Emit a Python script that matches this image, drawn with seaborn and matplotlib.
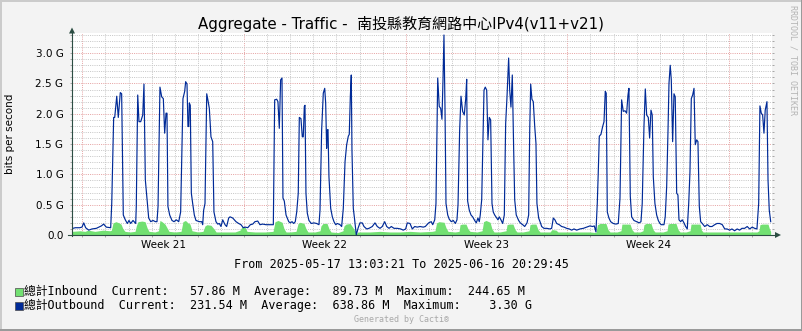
import numpy as np
import pandas as pd
import matplotlib
matplotlib.use("Agg")
import matplotlib.pyplot as plt
import matplotlib.dates as mdates
from matplotlib.lines import Line2D
from matplotlib.patches import Rectangle, Polygon
import seaborn as sns

# ---------------- data ----------------
START = "2025-05-17 13:03:21"
END = "2025-06-16 20:29:45"

# Outbound (Gbit/s), hours after START
out_hours = [
    1.2, 3.6, 8.2, 10.6, 12.4, 14.4, 17.6, 21.0, 25.5, 30.7, 33.1, 35.8, 40.4, 41.5, 43.5, 44.6, 46.7, 48.3, 50.4, 51.8,
    53.5, 55.6, 57.7, 59.4, 61.2, 63.6, 66.4, 67.0, 68.5, 69.8, 71.6, 73.7, 75.0, 76.4, 78.1, 79.9, 82.0, 84.4, 86.8, 88.5,
    89.6, 91.6, 93.4, 95.1, 96.5, 97.9, 98.9, 99.9, 101.7, 104.1, 106.2, 108.6, 111.1, 113.1, 115.5, 117.3, 118.3, 119.7, 120.7, 121.5,
    122.1, 123.1, 124.2, 125.6, 127.3, 129.0, 132.5, 135.0, 136.0, 137.0, 138.4, 140.2, 141.5, 142.9, 144.6, 146.4, 147.7, 149.8, 151.6, 153.3,
    155.0, 156.8, 159.2, 160.9, 163.0, 164.4, 167.2, 170.6, 173.4, 175.8, 178.2, 180.3, 182.8, 185.5, 188.0, 190.3, 193.2, 195.5, 198.3, 201.8,
    207.0, 209.4, 210.8, 212.9, 214.2, 215.6, 217.0, 218.4, 219.4, 220.8, 222.6, 225.4, 227.0, 228.8, 230.6, 232.2, 233.7, 235.3, 236.4, 238.1,
    239.5, 240.5, 241.6, 242.3, 243.3, 244.7, 246.4, 248.8, 251.6, 254.4, 256.8, 257.9, 259.6, 261.3, 262.8, 263.8, 264.8, 265.5, 266.2, 267.2,
    269.0, 270.7, 272.4, 274.2, 275.9, 278.7, 280.4, 282.1, 283.9, 285.6, 287.3, 288.3, 289.4, 290.4, 291.1, 292.5, 293.9, 295.6, 297.4, 299.4,
    301.8, 303.6, 306.4, 308.8, 312.2, 315.0, 317.4, 320.2, 322.6, 325.1, 327.2, 329.6, 332.0, 334.8, 338.2, 341.7, 344.4, 346.9, 348.6, 351.4,
    353.8, 356.3, 359.0, 361.8, 365.2, 367.3, 370.8, 373.5, 375.0, 377.1, 378.4, 380.2, 381.8, 383.3, 384.6, 385.7, 386.7, 387.8, 388.8, 390.6,
    392.2, 394.3, 396.4, 398.5, 400.2, 401.3, 403.0, 404.4, 406.1, 407.8, 409.3, 410.3, 411.3, 413.0, 414.8, 416.5, 418.6, 420.3, 422.0, 423.4,
    424.4, 425.9, 427.2, 428.3, 429.6, 431.1, 432.4, 433.8, 435.2, 436.6, 437.9, 439.4, 441.1, 442.8, 444.2, 445.9, 447.7, 449.4, 450.8, 452.2,
    453.9, 455.0, 456.3, 457.7, 459.1, 460.2, 461.8, 464.3, 466.0, 468.5, 470.6, 473.0, 474.7, 475.8, 476.8, 478.1, 479.5, 481.0, 482.3, 483.3,
    485.1, 487.2, 488.2, 490.6, 493.4, 496.8, 498.6, 500.3, 502.0, 503.8, 506.5, 509.0, 511.4, 514.2, 516.9, 519.4, 521.8, 524.6, 528.0, 531.5,
    535.0, 538.4, 541.2, 542.9, 544.6, 546.0, 547.0, 548.1, 549.8, 551.6, 553.0, 554.3, 555.3, 556.4, 558.1, 559.9, 562.6, 565.4, 567.8, 569.6,
    571.3, 573.0, 574.8, 576.5, 577.9, 578.9, 580.3, 581.7, 584.1, 586.9, 589.6, 591.4, 592.7, 594.5, 595.9, 597.3, 599.0, 600.4, 601.8, 603.1,
    604.2, 605.9, 607.7, 609.4, 611.1, 612.5, 615.3, 616.6, 618.1, 619.5, 620.5, 621.8, 622.9, 624.3, 625.7, 627.0, 628.5, 629.8, 630.9, 632.6,
    634.3, 636.1, 637.8, 639.5, 641.0, 642.3, 643.7, 645.1, 646.5, 647.8, 649.3, 650.6, 652.0, 653.4, 655.1, 657.6, 660.3, 662.8, 665.2, 668.0,
    670.4, 673.2, 675.9, 678.4, 680.8, 683.6, 685.9, 688.7, 691.4, 693.9, 696.3, 699.1, 701.8, 704.3, 707.0, 709.5, 711.9, 713.7, 715.0, 716.4,
    717.8, 719.2, 720.5, 722.3, 723.4, 724.7, 726.2,
]
out_gbps = [
    0.11, 0.12, 0.12, 0.13, 0.20, 0.12, 0.08, 0.10, 0.11, 0.15, 0.18, 0.13, 0.12, 0.52, 1.94, 1.94, 2.29, 1.94, 2.35, 2.33,
    0.33, 0.25, 0.19, 0.24, 0.19, 0.24, 0.19, 0.47, 2.31, 1.87, 1.87, 1.98, 2.49, 0.91, 0.61, 0.28, 0.22, 0.24, 0.22, 0.22,
    0.47, 2.44, 2.28, 2.25, 1.68, 2.01, 2.01, 0.47, 0.33, 0.24, 0.22, 0.25, 0.22, 0.38, 2.25, 2.37, 2.53, 2.49, 1.79, 1.79,
    2.18, 2.14, 0.69, 0.52, 0.33, 0.24, 0.22, 0.22, 0.17, 0.41, 0.52, 2.33, 2.22, 2.09, 1.62, 1.54, 0.38, 0.22, 0.18, 0.19,
    0.14, 0.25, 0.17, 0.14, 0.28, 0.30, 0.28, 0.22, 0.19, 0.17, 0.12, 0.13, 0.12, 0.17, 0.18, 0.22, 0.23, 0.17, 0.18, 0.17,
    0.17, 0.17, 2.23, 2.24, 2.20, 1.76, 2.56, 2.59, 0.61, 0.56, 0.33, 0.22, 0.20, 0.22, 0.19, 0.22, 0.38, 0.69, 1.94, 1.92,
    1.62, 1.62, 2.12, 2.14, 0.69, 0.36, 0.24, 0.19, 0.20, 0.19, 0.17, 0.41, 1.73, 2.34, 2.42, 2.17, 1.43, 1.73, 1.74, 0.96,
    0.44, 0.30, 0.22, 0.17, 0.19, 0.17, 0.14, 0.44, 1.21, 1.49, 1.63, 1.66, 2.28, 2.64, 1.40, 0.44, 0.25, 0.00, 0.11, 0.20,
    0.20, 0.14, 0.10, 0.11, 0.14, 0.20, 0.14, 0.11, 0.14, 0.22, 0.14, 0.11, 0.14, 0.11, 0.11, 0.10, 0.08, 0.10, 0.20, 0.19,
    0.10, 0.14, 0.13, 0.14, 0.13, 0.14, 0.20, 0.22, 0.17, 0.25, 0.52, 2.59, 2.12, 2.09, 1.91, 2.56, 3.30, 2.06, 0.52, 0.33,
    0.26, 0.22, 0.24, 0.19, 0.25, 0.50, 1.73, 2.29, 2.04, 1.98, 2.25, 2.57, 0.56, 0.41, 0.33, 0.30, 0.24, 0.20, 0.28, 0.22,
    0.33, 0.58, 1.57, 2.39, 2.44, 2.39, 1.57, 1.94, 1.90, 0.52, 0.38, 0.33, 0.29, 0.25, 0.30, 0.25, 0.19, 0.33, 1.84, 2.28,
    2.92, 2.39, 2.11, 2.64, 1.43, 0.58, 0.33, 0.24, 0.20, 0.17, 0.14, 0.20, 0.33, 1.73, 2.49, 2.24, 2.20, 1.79, 1.51, 0.52,
    0.28, 0.19, 0.14, 0.11, 0.11, 0.10, 0.11, 0.28, 0.25, 0.19, 0.17, 0.14, 0.13, 0.11, 0.10, 0.08, 0.10, 0.08, 0.10, 0.11,
    0.13, 0.15, 0.14, 0.15, 0.05, 0.52, 1.02, 1.63, 1.66, 1.79, 1.87, 2.37, 2.34, 0.38, 0.28, 0.22, 0.19, 0.18, 0.19, 0.61,
    2.23, 2.04, 2.05, 2.01, 2.31, 2.42, 0.64, 0.30, 0.24, 0.22, 0.20, 0.22, 0.52, 1.79, 2.41, 1.98, 1.94, 1.60, 2.06, 1.98,
    0.96, 0.52, 0.33, 0.24, 0.19, 0.17, 0.17, 0.30, 0.80, 1.73, 2.50, 2.80, 2.56, 1.54, 2.33, 2.28, 0.69, 0.66, 0.25, 0.22,
    0.25, 0.20, 0.14, 0.10, 0.52, 1.04, 2.25, 2.31, 2.42, 1.49, 1.57, 1.54, 0.47, 0.22, 0.19, 0.14, 0.17, 0.14, 0.14, 0.17,
    0.19, 0.19, 0.17, 0.10, 0.10, 0.08, 0.10, 0.07, 0.10, 0.08, 0.11, 0.11, 0.14, 0.10, 0.13, 0.11, 0.10, 0.52, 2.13, 2.01,
    1.98, 1.68, 2.06, 2.20, 0.91, 0.41, 0.22,
]

# Inbound (Gbit/s), hours after START
in_hours = [
    0.2, 8.5, 13.7, 16.8, 24.1, 32.4, 39.7,
    41.2, 42.8, 45.9, 49.0, 51.1, 53.2, 55.3, 60.5, 65.7,
    67.2, 68.8, 72.9, 76.1, 78.2, 80.2, 86.4, 90.1,
    91.6, 93.7, 96.8, 98.9, 101.0, 107.2, 113.5,
    115.5, 118.1, 120.7, 122.8, 124.9, 131.1, 136.3,
    138.4, 140.5, 144.6, 147.8, 149.9,
    159.2, 169.6, 174.8, 176.9, 180.0, 182.1, 190.4, 200.8, 209.1,
    211.2, 214.3, 218.5, 220.6, 222.6, 226.8, 233.0,
    235.1, 237.2, 241.3, 243.4, 245.5, 252.7, 257.9,
    258.9, 261.0, 265.2, 267.3, 269.3, 276.6, 281.8,
    282.8, 284.9, 289.1, 292.2, 294.3, 295.6,
    297.4, 309.8, 320.2, 330.6, 341.0, 351.4, 361.8, 374.3, 377.4,
    379.0, 381.6, 386.8, 388.8, 390.9, 398.2, 402.4,
    403.4, 405.5, 409.6, 411.7, 413.8, 421.0, 426.3,
    427.8, 430.4, 434.6, 436.6, 438.7, 444.9, 451.2,
    452.2, 454.3, 458.4, 460.5, 462.6, 468.8, 475.1,
    476.1, 478.2, 482.3, 484.4, 486.5,
    496.9, 499.0, 503.1, 505.2, 522.9, 538.4, 544.6,
    546.2, 548.8, 555.0, 557.1, 559.2, 566.5, 570.6,
    571.6, 574.8, 580.0, 582.0, 584.1, 590.4, 593.5,
    594.5, 596.6, 601.8, 603.9, 606.0, 614.3, 618.5,
    619.5, 621.6, 627.8, 629.9, 632.0, 638.2, 642.4,
    643.4, 645.5, 652.8, 654.3, 655.9,
    673.5, 694.3, 711.9, 714.0,
    715.0, 717.1, 723.4, 724.9, 726.2,
]
in_gbps = [
    0.06, 0.07, 0.06, 0.08, 0.06, 0.08, 0.07,
    0.08, 0.20, 0.22, 0.20, 0.18, 0.10, 0.06, 0.05, 0.06,
    0.16, 0.22, 0.23, 0.22, 0.12, 0.06, 0.05, 0.07,
    0.24, 0.22, 0.18, 0.12, 0.06, 0.05, 0.06,
    0.22, 0.24, 0.20, 0.18, 0.07, 0.05, 0.06,
    0.15, 0.17, 0.16, 0.10, 0.05,
    0.05, 0.05, 0.08, 0.14, 0.13, 0.06, 0.05, 0.05, 0.06,
    0.22, 0.24, 0.21, 0.10, 0.05, 0.05, 0.06,
    0.19, 0.21, 0.19, 0.10, 0.05, 0.05, 0.07,
    0.15, 0.19, 0.19, 0.10, 0.05, 0.04, 0.07,
    0.15, 0.18, 0.19, 0.12, 0.06, 0.02,
    0.05, 0.05, 0.06, 0.05, 0.05, 0.06, 0.05, 0.06, 0.07,
    0.20, 0.22, 0.21, 0.12, 0.06, 0.05, 0.06,
    0.17, 0.18, 0.18, 0.10, 0.06, 0.05, 0.07,
    0.22, 0.24, 0.21, 0.10, 0.05, 0.05, 0.07,
    0.17, 0.18, 0.18, 0.09, 0.05, 0.05, 0.07,
    0.17, 0.18, 0.18, 0.09, 0.05,
    0.05, 0.09, 0.08, 0.05, 0.05, 0.05, 0.04,
    0.17, 0.19, 0.19, 0.09, 0.05, 0.05, 0.07,
    0.18, 0.18, 0.18, 0.09, 0.05, 0.05, 0.07,
    0.17, 0.19, 0.19, 0.09, 0.05, 0.05, 0.07,
    0.18, 0.19, 0.19, 0.09, 0.05, 0.05, 0.07,
    0.18, 0.18, 0.18, 0.08, 0.05,
    0.05, 0.05, 0.05, 0.07,
    0.17, 0.18, 0.18, 0.10, 0.06,
]

week_labels = ["Week 21", "Week 22", "Week 23", "Week 24"]
week_centers = ["2025-05-21 12:00", "2025-05-28 12:00", "2025-06-04 12:00", "2025-06-11 12:00"]
ytick_vals = [0.0, 0.5, 1.0, 1.5, 2.0, 2.5, 3.0]
ytick_labels = ["0.0", "0.5 G", "1.0 G", "1.5 G", "2.0 G", "2.5 G", "3.0 G"]

TITLE = "Aggregate - Traffic -  南投縣教育網路中心IPv4(v11+v21)"
Y_LABEL = "bits per second"
FROM_TEXT = "From 2025-05-17 13:03:21 To 2025-06-16 20:29:45"
LEG_IN = "總計Inbound  Current:   57.86 M  Average:   89.73 M  Maximum:  244.65 M"
LEG_OUT = "總計Outbound  Current:  231.54 M  Average:  638.86 M  Maximum:    3.30 G"
CREDIT = "Generated by Cacti®"
WATERMARK = "RRDTOOL / TOBI OETIKER"

# ---------------- style ----------------
W, H = 803, 331
BG = "#F3F3F3"
GREEN = "#72E072"
BLUE = "#002A97"
AXIS = "#2C4D43"
GRID = "#C8C8C8"
MGRID = "#E6A4A4"
MONO = ["DejaVu Sans Mono", "Noto Sans CJK TC"]
SANS = ["DejaVu Sans", "Noto Sans CJK TC"]

def fx(px):
    return px / W

def fy(py):
    return 1 - py / H

X0, X1, YB, YT = 71.8, 771.9, 235.0, 33.0

fig = plt.figure(figsize=(W / 100, H / 100), dpi=100, facecolor=BG)
ax = fig.add_axes([fx(X0), fy(YB), (X1 - X0) / W, (YB - YT) / H])
ax.set_facecolor("white")

t0 = pd.Timestamp(START)
t1 = pd.Timestamp(END)
out_t = mdates.date2num(t0 + pd.to_timedelta(out_hours, unit="h"))
in_t = mdates.date2num(t0 + pd.to_timedelta(in_hours, unit="h"))

df_out = pd.DataFrame({"t": out_t, "v": out_gbps})

ax.fill_between(in_t, in_gbps, 0, color=GREEN, linewidth=0, zorder=2)
sns.lineplot(data=df_out, x="t", y="v", ax=ax, color=BLUE, linewidth=0.85,
             estimator=None, sort=False, zorder=3)

ax.set_xlim(mdates.date2num(t0), mdates.date2num(t1))
ax.set_ylim(0, 3.333)
ax.set_xlabel("")
ax.set_ylabel("")
for s in ax.spines.values():
    s.set_visible(False)

# y grid
ax.set_yticks(ytick_vals)
ax.set_yticklabels(ytick_labels)
minor_y = [v for v in np.round(np.arange(0.1, 3.35, 0.1), 1) if abs(v * 2 - round(v * 2)) > 1e-6]
ax.set_yticks(minor_y, minor=True)

# x grid
days = pd.date_range("2025-05-18", "2025-06-16", freq="D")
sundays = days[days.dayofweek == 6]
others = days[days.dayofweek != 6]
ax.set_xticks(mdates.date2num(sundays))
ax.set_xticks(mdates.date2num(others), minor=True)
ax.set_xticklabels([])

ax.set_axisbelow(True)
dash = (0, (1, 1.2))
ax.grid(True, which="minor", color=GRID, linestyle=dash, linewidth=0.72)
ax.grid(True, which="major", color=MGRID, linestyle=dash, linewidth=0.72)

ax.tick_params(axis="both", which="both", length=1.44, width=0.72, direction="out", color="#A8A8A8")
ax.tick_params(axis="y", which="both", left=True, right=True, labelsize=7.5, pad=4.6, labelcolor="#000000")
ax.tick_params(axis="x", which="both", bottom=True, labelbottom=False)

for c, lab in zip(week_centers, week_labels):
    ax.text(mdates.date2num(pd.Timestamp(c)), -4.5 / (YB - YT), lab,
            transform=ax.get_xaxis_transform(), ha="center", va="top", fontsize=7.5)

# axes lines and arrows
fig.add_artist(Line2D([fx(72), fx(72)], [fy(235.5), fy(31)], color=AXIS, lw=0.8))
fig.add_artist(Line2D([fx(68), fx(776)], [fy(235), fy(235)], color=AXIS, lw=0.8))
fig.add_artist(Polygon([(fx(69), fy(33.5)), (fx(75), fy(33.5)), (fx(72), fy(27.5))],
                       closed=True, color=AXIS, lw=0))
fig.add_artist(Polygon([(fx(775), fy(232)), (fx(775), fy(238)), (fx(781), fy(235))],
                       closed=True, color=AXIS, lw=0))

# texts
fig.text(fx(401), fy(23.5), TITLE, ha="center", va="center", fontsize=10.8, family=SANS)
fig.text(fx(10), fy(134), Y_LABEL, ha="center", va="center", rotation=90, fontsize=7.5, family=SANS)
fig.text(fx(401.5), fy(264), FROM_TEXT, ha="center", va="center", fontsize=8.5, family=MONO)
fig.text(fx(24), fy(291.5), LEG_IN, ha="left", va="center", fontsize=8.5, family=MONO)
fig.text(fx(24), fy(305.5), LEG_OUT, ha="left", va="center", fontsize=8.5, family=MONO)
fig.text(fx(401.5), fy(320), CREDIT, ha="center", va="center", fontsize=6, family=MONO, color="#A8A8A8")
fig.text(fx(793), fy(60), WATERMARK, ha="center", va="center", rotation=270, fontsize=6,
         family=MONO, color="#B4B4B4")

# legend boxes
fig.add_artist(Rectangle((fx(15.5), fy(296)), 7.5 / W, 8.5 / H, facecolor=GREEN,
                         edgecolor="#4A4A4A", lw=0.5))
fig.add_artist(Rectangle((fx(15.5), fy(310)), 7.5 / W, 8.5 / H, facecolor=BLUE,
                         edgecolor="#4A4A4A", lw=0.5))

# frame
fig.add_artist(Line2D([0, 1], [fy(1), fy(1)], color="#CBCBCB", lw=1.44))
fig.add_artist(Line2D([fx(1), fx(1)], [0, 1], color="#CBCBCB", lw=1.44))
fig.add_artist(Line2D([0, 1], [fy(330), fy(330)], color="#9A9A9A", lw=1.44))
fig.add_artist(Line2D([fx(802), fx(802)], [0, 1], color="#9A9A9A", lw=1.44))

fig.savefig("out.png", dpi=100, facecolor=BG)
